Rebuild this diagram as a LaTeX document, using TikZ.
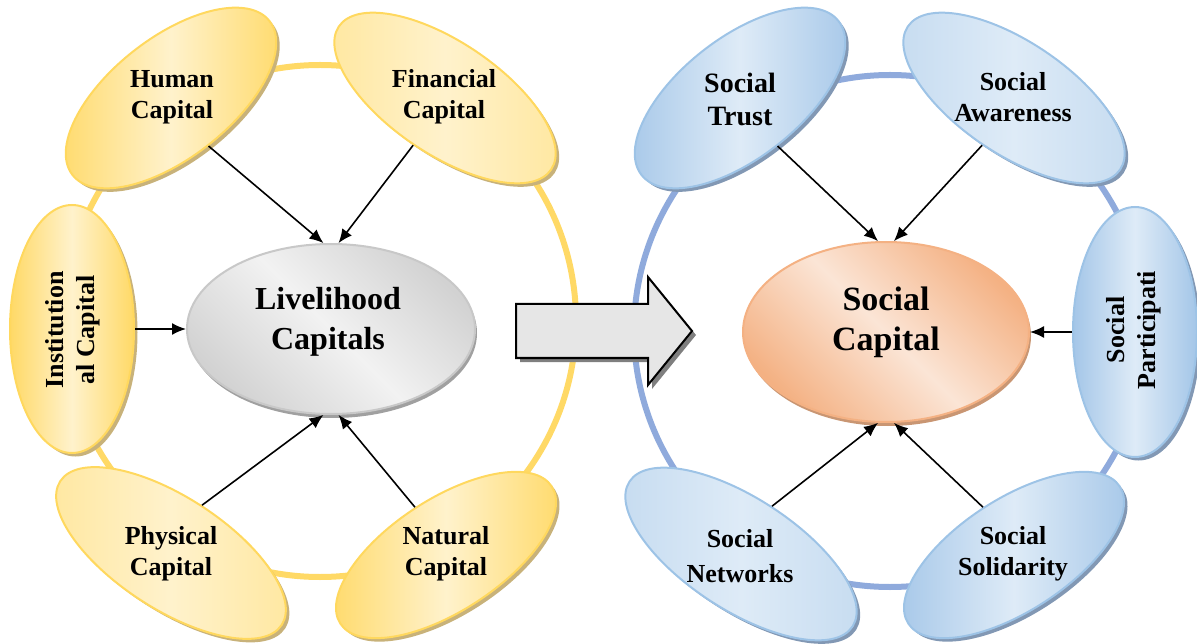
\documentclass[tikz,border=0pt]{standalone}
\usepackage{fontspec}
\setmainfont{Liberation Serif}
\usetikzlibrary{shapes.geometric,shadows,arrows.meta}
\definecolor{goldD}{HTML}{FFD966}
\definecolor{goldM}{HTML}{FFE79E}
\definecolor{goldL}{HTML}{FFF2CC}
\definecolor{goldB}{HTML}{FFD85E}
\definecolor{goldS}{HTML}{C8B27A}
\definecolor{blueD}{HTML}{A4C6E8}
\definecolor{blueM}{HTML}{C5DBF0}
\definecolor{blueL}{HTML}{DEEBF7}
\definecolor{blueB}{HTML}{9DC3E6}
\definecolor{blueS}{HTML}{8298B4}
\definecolor{ringY}{HTML}{FFD966}
\definecolor{ringB}{HTML}{8FAADC}
\definecolor{peachD}{HTML}{F4B183}
\definecolor{peachL}{HTML}{FBE5D6}
\definecolor{peachB}{HTML}{F4B183}
\definecolor{peachS}{HTML}{C99673}
\definecolor{grayD}{HTML}{D2D2D2}
\definecolor{grayL}{HTML}{F2F2F2}
\definecolor{grayB}{HTML}{C8C8C8}
\definecolor{grayS}{HTML}{A0A0A0}
\definecolor{arrowF}{HTML}{E6E6E6}
\definecolor{arrowS}{HTML}{7F7F7F}
\begin{document}
\begin{tikzpicture}[x=1pt,y=-1pt,
  ring/.style={line width=6pt},
  bub/.style={ellipse, inner sep=0pt, line width=2pt},
  ybub/.style={bub, draw=goldB, left color=goldD, right color=goldD, middle color=goldL,
     drop shadow={shadow xshift=3.5pt, shadow yshift=-3.5pt, fill=goldS, opacity=1}},
  ybubl/.style={ybub, left color=goldM, right color=goldM, middle color=goldL},
  bbub/.style={bub, draw=blueB, left color=blueD, right color=blueD, middle color=blueL,
     drop shadow={shadow xshift=3.5pt, shadow yshift=-3.5pt, fill=blueS, opacity=1}},
  bbubl/.style={bbub, left color=blueM, right color=blueM, middle color=blueL},
  lbl/.style={font=\fontsize{26}{31}\selectfont\bfseries, align=center, inner sep=0pt},
  big/.style={font=\fontsize{32}{40}\selectfont\bfseries, align=center, inner sep=0pt},
  arr/.style={line width=1.6pt, -{Latex[length=14pt,width=12pt]}},
]
\useasboundingbox (0,0) rectangle (1197,644);

% rings
\draw[ring, ringY] (320,321) circle[radius=256pt];
\draw[ring, ringB] (890,331) circle[radius=256pt];

% left bubbles
\node[ybub, minimum width=250pt, minimum height=120pt, rotate=38] (hum) at (171,98) {};
\node[ybubl, minimum width=256pt, minimum height=112pt, rotate=-34] (fin) at (445,98) {};
\node[ybub, minimum width=248pt, minimum height=124pt, rotate=90] (inst) at (72,329) {};
\node[ybubl, minimum width=264pt, minimum height=112pt, rotate=-33] (phy) at (171,553) {};
\node[ybub, minimum width=252pt, minimum height=112pt, rotate=33] (nat) at (446,555) {};
\node[bub, draw=grayB, top color=grayD, bottom color=grayD, middle color=grayL, shading angle=-45,
      drop shadow={shadow xshift=2pt, shadow yshift=-4pt, fill=grayS, opacity=1},
      minimum width=288pt, minimum height=170pt] (liv) at (331,329) {};

% right bubbles
\node[bbub, minimum width=250pt, minimum height=120pt, rotate=38] (tru) at (740,98) {};
\node[bbubl, minimum width=256pt, minimum height=112pt, rotate=-34] (awa) at (1014,98) {};
\node[bbub, minimum width=250pt, minimum height=124pt, rotate=90] (par) at (1135,332) {};
\node[bbubl, minimum width=266pt, minimum height=112pt, rotate=-33] (net) at (741,554) {};
\node[bbub, minimum width=252pt, minimum height=112pt, rotate=33] (sol) at (1014,555) {};
\node[bub, draw=peachB, top color=peachD, bottom color=peachD, middle color=peachL, shading angle=-45,
      drop shadow={shadow xshift=2pt, shadow yshift=-4pt, fill=peachS, opacity=1},
      minimum width=286pt, minimum height=180pt] (soc) at (886,332) {};

% big arrow
\fill[arrowS, shift={(4,4)}] (516,304) -- (648,304) -- (648,277) -- (692,331) -- (648,385) -- (648,358) -- (516,358) -- cycle;
\draw[line width=2pt, fill=arrowF] (516,304) -- (648,304) -- (648,277) -- (692,331) -- (648,385) -- (648,358) -- (516,358) -- cycle;

% arrows
\draw[arr] (hum.south) -- (liv.95);
\draw[arr] (fin.south) -- (liv.85);
\draw[arr] (inst.south) -- (liv.west);
\draw[arr] (phy.north) -- (liv.265);
\draw[arr] (nat.north) -- (liv.275);
\draw[arr] (tru.south) -- (soc.95);
\draw[arr] (awa.south) -- (soc.85);
\draw[arr] (par.north) -- (soc.east);
\draw[arr] (net.north) -- (soc.265);
\draw[arr] (sol.north) -- (soc.275);

% texts
\node[lbl] (humT) at (172,97) {Human\\Capital};
\node[lbl] (finT) at (444,97) {Financial\\Capital};
\node[lbl, rotate=90] (instT) at (73,330) {Institution\\al Capital};
\node[lbl] (phyT) at (171,554) {Physical\\Capital};
\node[lbl] (natT) at (446,554) {Natural\\Capital};
\node[big] (livT) at (328,322) {Livelihood\\Capitals};

\node[lbl, font=\fontsize{28}{33}\selectfont\bfseries] (truT) at (740,99) {Social\\Trust};
\node[lbl] (awaT) at (1013,97) {Social\\Awareness};
\node[lbl, rotate=90] (parT) at (1134,330) {Social\\Participati};
\node[lbl, font=\fontsize{26}{35}\selectfont\bfseries] (netT) at (740,556) {Social\\Networks};
\node[lbl] (solT) at (1013,554) {Social\\Solidarity};
\node[big, font=\fontsize{34}{40}\selectfont\bfseries] (socT) at (886,322) {Social\\Capital};
\end{tikzpicture}
\end{document}
